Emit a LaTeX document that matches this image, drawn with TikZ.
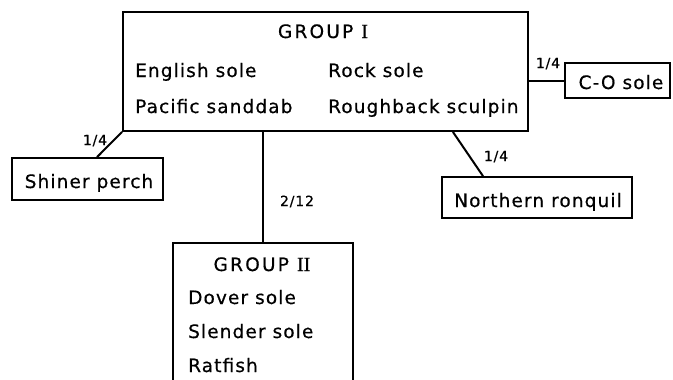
\documentclass[tikz,border=0pt]{standalone}
\usepackage{fontspec}
\setmainfont{DejaVu Sans}[LetterSpace=6,FakeBold=0.5]
\newfontfamily\wide{DejaVu Sans}[LetterSpace=12,FakeBold=0.5]
\newfontfamily\numfont{Liberation Serif}[FakeBold=0.5]
\begin{document}
\begin{tikzpicture}[x=1pt,y=-1pt,
  box/.style={draw=black,line width=1.8pt,inner sep=0pt,rectangle},
  txt/.style={font=\fontsize{18.5}{18.5}\selectfont,inner sep=0pt},
  lab/.style={font=\fontsize{14}{14}\selectfont,inner sep=0pt},
  link/.style={line width=2pt}]
\clip (0,0) rectangle (673,380);
\fill[white] (0,0) rectangle (673,380);
% boxes
\node[box,minimum width=405pt,minimum height=119pt] (g1) at (325.5,71.5) {};
\node[box,minimum width=151pt,minimum height=42pt] (sp) at (87.5,179) {};
\node[box,minimum width=105pt,minimum height=35pt] (co) at (617.5,80.5) {};
\node[box,minimum width=190pt,minimum height=41pt] (nr) at (537,197.5) {};
\node[box,minimum width=180pt,minimum height=157pt] (g2) at (263,321.5) {};
% texts group I
\node[txt,anchor=base] (g1t) at (323,38) {\wide GROUP {\numfont\fontsize{20}{20}\selectfont I}};
\node[txt,anchor=base west] (es) at (135,77) {English sole};
\node[txt,anchor=base west] (rs) at (328,77) {Rock sole};
\node[txt,anchor=base west] (ps) at (135,113) {Pacific sanddab};
\node[txt,anchor=base west] (rb) at (328,113) {Roughback sculpin};
% other texts
\node[txt,anchor=base] (spt) at (89,188) {Shiner perch};
\node[txt,anchor=base] (cot) at (621,89) {C-O sole};
\node[txt,anchor=base] (nrt) at (538,207) {Northern ronquil};
% group II texts
\node[txt,anchor=base] (g2t) at (262,271) {\wide GROUP {\numfont\fontsize{20}{20}\selectfont II}};
\node[txt,anchor=base west] (ds) at (188,304) {Dover sole};
\node[txt,anchor=base west] (ss) at (188,338) {Slender sole};
\node[txt,anchor=base west] (rf) at (188,372) {Ratfish};
% connectors
\draw[link] (g1.south west) -- ([xshift=9.5pt]sp.north);
\draw[link] (g1.south -| g2.north) -- (g2.north);
\draw[link] (g1.east |- co.west) -- (co.west);
\draw[link] ([xshift=-76pt]g1.south east) -- ([xshift=-54pt]nr.north);
% labels
\node[lab,anchor=base] (l1) at (95,145) {1/4};
\node[lab,anchor=base] (l2) at (548,68) {1/4};
\node[lab,anchor=base] (l3) at (496,161) {1/4};
\node[lab,anchor=base] (l4) at (297,206) {2/12};
\end{tikzpicture}
\end{document}
